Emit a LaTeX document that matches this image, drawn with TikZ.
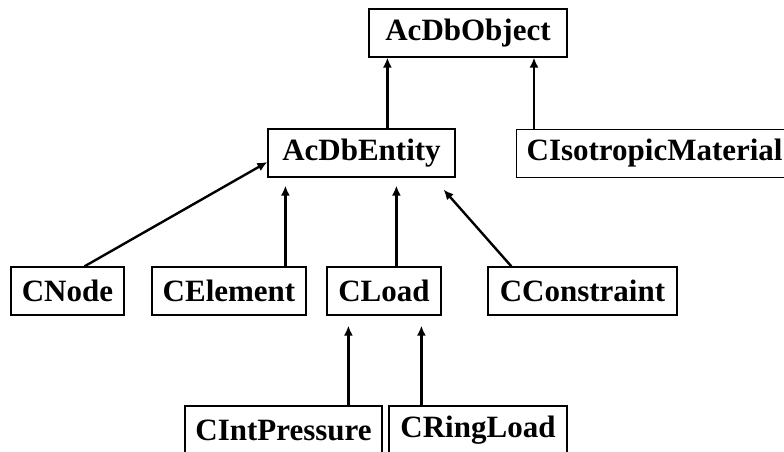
\documentclass[tikz,border=0pt]{standalone}
\usepackage{fontspec}
\setmainfont{Liberation Serif}
\usetikzlibrary{arrows.meta,calc}
\begin{document}
\begin{tikzpicture}[x=1pt,y=-1pt,
  cls/.style={draw=black,line width=1.2pt,inner sep=0pt,minimum height=48pt,
    font=\fontsize{31}{31}\selectfont\bfseries},
  arr/.style={line width=2.4pt,-{Latex[length=10pt,width=9pt]}}]
\useasboundingbox[fill=white] (0,0) rectangle (784,452);
\node[cls,minimum width=198pt] (obj) at (468,33) {AcDbObject};
\node[cls,minimum width=187pt] (ent) at (361.5,153) {AcDbEntity};
\node[cls,minimum width=276pt,anchor=west] (iso) at (516,153.5) {CIsotropicMaterial};
\node[cls,minimum width=113pt] (cnode) at (67.5,291) {CNode};
\node[cls,minimum width=154pt] (celem) at (229,291) {CElement};
\node[cls,minimum width=114pt] (cload) at (384,291) {CLoad};
\node[cls,minimum width=189pt] (ccons) at (582.5,291) {CConstraint};
\node[cls,minimum width=197pt] (cint) at (283.5,430) {CIntPressure};
\node[cls,minimum width=178pt] (cring) at (478,430) {CRingLoad};
% connectors
\draw[arr] ([xshift=120pt]ent.north west) coordinate (a1) -- (a1 |- obj.south);
\draw[arr] ([xshift=18pt]iso.north west) coordinate (a2) -- (a2 |- obj.south);
\draw[arr] ([xshift=74pt]cnode.north west) -- ([yshift=-9pt]ent.west);
\draw[arr,shorten >=8pt] ([xshift=134pt]celem.north west) coordinate (a4) -- (a4 |- ent.south);
\draw[arr,shorten >=8pt] ([xshift=70pt]cload.north west) coordinate (a5) -- (a5 |- ent.south);
\draw[arr] ([xshift=24pt]ccons.north west) -- ([xshift=-12pt,yshift=-12pt]ent.south east);
\draw[arr,shorten >=10pt] ([xshift=164pt]cint.north west) coordinate (a7) -- (a7 |- cload.south);
\draw[arr,shorten >=10pt] ([xshift=33pt]cring.north west) coordinate (a8) -- (a8 |- cload.south);
\end{tikzpicture}
\end{document}
